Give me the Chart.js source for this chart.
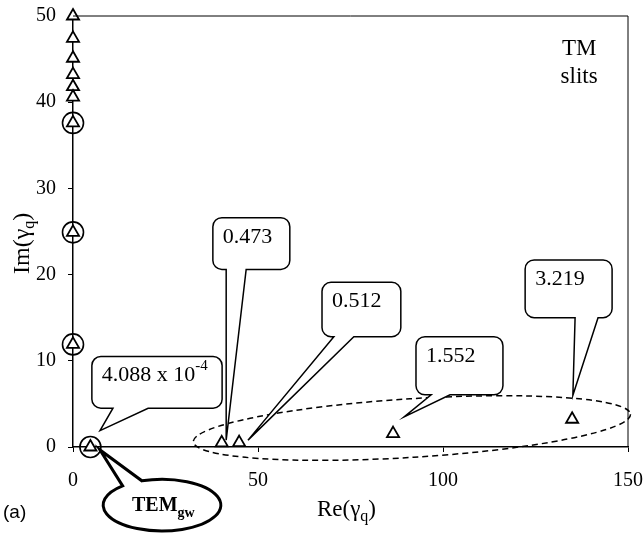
<!DOCTYPE html>
<html>
<head>
<meta charset="utf-8">
<script src="https://cdn.jsdelivr.net/npm/chart.js@4.4.1/dist/chart.umd.min.js"></script>
<style>
  body { margin: 0; background: #fff; }
  canvas { display: block; }
</style>
</head>
<body>
<canvas id="chart" width="644" height="535"></canvas>
<script>
// mode values: Re and Im of gamma_q
const reValues = [0, 0, 0, 0, 0, 0, 0, 0, 0, 4.7, 40.2, 44.9, 86.5, 134.9];
const imValues = [50, 47.4, 45.1, 43.2, 41.8, 40.6, 37.6, 24.9, 11.9, 0.0004088, 0.473, 0.512, 1.552, 3.219];
const circledIdx = [6, 7, 8, 9]; // points drawn with a ring round them
const xTicks = [0, 50, 100, 150];
const yTicks = [0, 10, 20, 30, 40, 50];

const SERIF = '"Liberation Serif", "Times New Roman", serif';

// callouts, boxes given in data units [x1, yTop, x2, yBottom]
const callouts = [
  { text: '4.088 x 10', sup: '-4', box: [5.1, 10.5, 40.3, 4.5], base: [10.8, 20.3], tip: [7.3, 1.9] },
  { text: '0.473', box: [37.8, 26.6, 58.6, 20.6], base: [41.4, 46.8], tip: [41.4, 0.8] },
  { text: '0.512', box: [67.3, 19.1, 88.6, 12.8], base: [70.5, 75.9], tip: [47.3, 0.8] },
  { text: '1.552', box: [92.7, 12.8, 116.2, 6.05], base: [96.8, 101.9], tip: [89.5, 3.5] },
  { text: '3.219', box: [122.2, 21.7, 145.7, 15.0], base: [135.7, 141.9], tip: [135.1, 6.0] }
];

const points = reValues.map((x, i) => ({ x: x, y: imValues[i] }));
const ringed = circledIdx.map(i => points[i]);

function drawParts(ctx, parts, x, y) {
  parts.forEach(p => {
    ctx.font = p.font;
    ctx.fillText(p.text, x, y + (p.dy || 0));
    x += ctx.measureText(p.text).width;
  });
}

function calloutPath(ctx, x1, y1, x2, y2, r, bA, bB, tx, ty) {
  ctx.beginPath();
  ctx.moveTo(x1 + r, y1);
  ctx.lineTo(x2 - r, y1);
  ctx.arcTo(x2, y1, x2, y1 + r, r);
  ctx.lineTo(x2, y2 - r);
  ctx.arcTo(x2, y2, x2 - r, y2, r);
  ctx.lineTo(bB, y2);
  ctx.lineTo(tx, ty);
  ctx.lineTo(bA, y2);
  ctx.lineTo(x1 + r, y2);
  ctx.arcTo(x1, y2, x1, y2 - r, r);
  ctx.lineTo(x1, y1 + r);
  ctx.arcTo(x1, y1, x1 + r, y1, r);
  ctx.closePath();
}

// fixed axis sizes, no auto padding for edge labels
function fixScale(size) {
  return s => {
    if (s.isHorizontal()) s.height = size; else s.width = size;
    s.paddingLeft = s.paddingRight = s.paddingTop = s.paddingBottom = 0;
  };
}

const extras = {
  id: 'extras',
  afterDatasetsDraw(chart) {
    const ctx = chart.ctx;
    const xs = chart.scales.x, ys = chart.scales.y;
    const a = chart.chartArea;
    const px = v => xs.getPixelForValue(v);
    const py = v => ys.getPixelForValue(v);
    ctx.save();
    ctx.strokeStyle = '#000';
    ctx.fillStyle = '#000';

    // top and right frame
    ctx.lineWidth = 1;
    ctx.beginPath();
    ctx.moveTo(a.left, a.top);
    ctx.lineTo(a.right, a.top);
    ctx.lineTo(a.right, a.bottom);
    ctx.stroke();

    // dashed ellipse round the low modes
    const ecx = px(91.6), ecy = py(2.2);
    ctx.lineWidth = 1.5;
    ctx.setLineDash([6, 4]);
    ctx.beginPath();
    ctx.ellipse(ecx, ecy, px(91.6 + 59.2) - ecx, ecy - py(2.2 + 3.4), -3.6 * Math.PI / 180, 0, Math.PI * 2);
    ctx.stroke();
    ctx.setLineDash([]);

    // callout boxes
    callouts.forEach(c => {
      const x1 = px(c.box[0]), y1 = py(c.box[1]), x2 = px(c.box[2]), y2 = py(c.box[3]);
      calloutPath(ctx, x1, y1, x2, y2, 9, px(c.base[0]), px(c.base[1]), px(c.tip[0]), py(c.tip[1]));
      ctx.fillStyle = '#fff';
      ctx.fill();
      ctx.lineWidth = 1.5;
      ctx.stroke();
      ctx.fillStyle = '#000';
      ctx.textBaseline = 'alphabetic';
      const parts = [{ text: c.text, font: '22px ' + SERIF }];
      if (c.sup) parts.push({ text: c.sup, font: '15px ' + SERIF, dy: -11 });
      drawParts(ctx, parts, x1 + 10, y1 + 25);
    });

    // TEM_gw bubble
    const tcx = px(24.05), tcy = py(-6.74);
    const trx = px(24.05 + 15.9) - tcx, try_ = py(-6.74 - 3.0) - tcy;
    const t1 = 228 * Math.PI / 180, t2 = 250 * Math.PI / 180;
    const tipX = px(7.3), tipY = py(-0.35);
    ctx.lineWidth = 3;
    ctx.beginPath();
    ctx.ellipse(tcx, tcy, trx, try_, 0, t2, t1 + Math.PI * 2);
    ctx.lineTo(tipX, tipY);
    ctx.closePath();
    ctx.fillStyle = '#fff';
    ctx.fill();
    ctx.stroke();
    ctx.fillStyle = '#000';
    drawParts(ctx, [
      { text: 'TEM', font: 'bold 20px ' + SERIF },
      { text: 'gw', font: 'bold 14px ' + SERIF, dy: 6 }
    ], tcx - 30, tcy + 6);

    // TM slits
    ctx.font = '23px ' + SERIF;
    ctx.textAlign = 'center';
    ctx.fillText('TM', px(136.8), py(45.5));
    ctx.fillText('slits', px(136.8), py(42.2));
    ctx.textAlign = 'left';

    // axis titles
    drawParts(ctx, [
      { text: 'Re(\u03b3', font: '23px ' + SERIF },
      { text: 'q', font: '16px ' + SERIF, dy: 5 },
      { text: ')', font: '23px ' + SERIF }
    ], 317, 516);

    ctx.save();
    ctx.translate(29, 274);
    ctx.rotate(-Math.PI / 2);
    drawParts(ctx, [
      { text: 'Im(\u03b3', font: '24px ' + SERIF },
      { text: 'q', font: '16px ' + SERIF, dy: 5 },
      { text: ')', font: '24px ' + SERIF }
    ], 0, 0);
    ctx.restore();

    ctx.font = '19px "Liberation Sans", Arial, sans-serif';
    ctx.fillText('(a)', 3, 518);
    ctx.restore();
  }
};

new Chart(document.getElementById('chart'), {
  type: 'scatter',
  data: {
    datasets: [
      {
        label: 'modes',
        data: points,
        pointStyle: 'triangle',
        radius: 7,
        borderWidth: 1.8,
        borderColor: '#000',
        backgroundColor: '#fff',
        clip: false
      },
      {
        label: 'ringed',
        data: ringed,
        pointStyle: 'circle',
        radius: 10.5,
        borderWidth: 1.6,
        borderColor: '#000',
        backgroundColor: 'rgba(0,0,0,0)',
        clip: false
      }
    ]
  },
  options: {
    responsive: false,
    animation: false,
    events: [],
    layout: { padding: { left: 0, right: 16, top: 16, bottom: 0 }, autoPadding: false },
    plugins: { legend: { display: false }, tooltip: { enabled: false } },
    scales: {
      x: {
        type: 'linear',
        min: 0,
        max: 150,
        afterBuildTicks: s => { s.ticks = xTicks.map(v => ({ value: v })); },
        afterFit: fixScale(88),
        ticks: { color: '#000', font: { family: SERIF, size: 20 }, padding: 17, maxRotation: 0 },
        grid: { drawOnChartArea: false, tickLength: 5, color: '#000' },
        border: { color: '#000', width: 1.5 }
      },
      y: {
        type: 'linear',
        min: 0,
        max: 50,
        afterBuildTicks: s => { s.ticks = yTicks.map(v => ({ value: v })); },
        afterFit: fixScale(73),
        ticks: { color: '#000', font: { family: SERIF, size: 20 }, padding: 12 },
        grid: { drawOnChartArea: false, tickLength: 5, color: '#000' },
        border: { color: '#000', width: 1.5 }
      }
    }
  },
  plugins: [extras]
});
</script>
</body>
</html>
